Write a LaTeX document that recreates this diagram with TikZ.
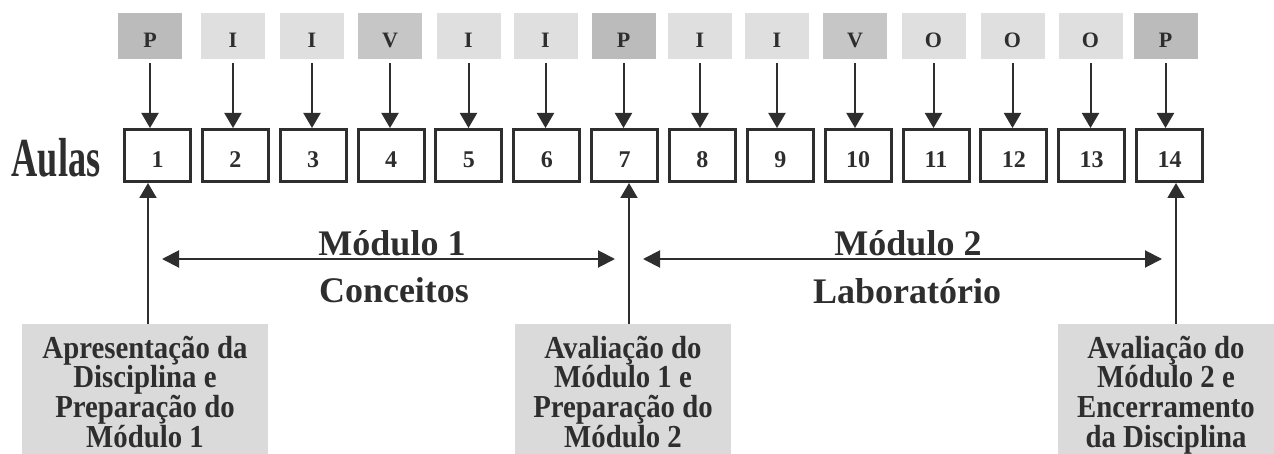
\documentclass[tikz,border=0pt]{standalone}
\usepackage{fontspec}
\setmainfont{Liberation Serif}
\newfontfamily\aulasfont[FakeStretch=0.66]{Liberation Serif}
\newfontfamily\condfont[FakeStretch=0.9]{Liberation Serif}
\usetikzlibrary{arrows.meta}
\definecolor{ink}{HTML}{2E2E2E}
\definecolor{darkfill}{HTML}{BBBBBB}
\definecolor{midfill}{HTML}{C6C6C6}
\definecolor{lightfill}{HTML}{DFDFDF}
\definecolor{notefill}{HTML}{DADADA}
\begin{document}
\begin{tikzpicture}[x=1pt,y=-1pt,
  tag/.style={rectangle, minimum width=64pt, minimum height=46pt, inner sep=0pt,
    text height=24pt, text depth=0pt, text=ink,
    font=\bfseries\fontsize{22}{26}\selectfont},
  tagdark/.style={tag, fill=darkfill},
  tagmid/.style={tag, fill=midfill},
  taglight/.style={tag, fill=lightfill},
  aula/.style={rectangle, draw=ink, line width=3pt, minimum width=66pt,
    minimum height=52pt, inner sep=0pt, text height=25pt, text depth=0pt,
    text=ink, font=\bfseries\fontsize{24}{28}\selectfont},
  arr/.style={draw=ink, line width=2pt, -{Triangle[width=17pt,length=15pt]}},
  dbl/.style={draw=ink, line width=2pt,
    {Triangle[width=17pt,length=17pt]}-{Triangle[width=17pt,length=17pt]}},
  note/.style={rectangle, fill=notefill, inner sep=0pt, align=center, text=ink,
    minimum height=142pt,
    font={\condfont\bfseries\fontsize{32}{29.7}\selectfont\lineskiplimit=-50pt}},
  modtext/.style={anchor=base, text=ink, inner sep=0pt,
    font=\bfseries\fontsize{36}{40}\selectfont}
]
\useasboundingbox (0,0) rectangle (1274,454);

% top tags
\foreach \i/\x/\l/\s in {1/150/P/tagdark, 2/233/I/taglight, 3/312/I/taglight,
  4/390/V/tagmid, 5/468.5/I/taglight, 6/545.5/I/taglight, 7/623.5/P/tagdark,
  8/700/I/taglight, 9/777/I/taglight, 10/855/V/tagmid, 11/933.5/O/taglight,
  12/1012.5/O/taglight, 13/1090.5/O/taglight, 14/1165.5/P/tagdark}
  \node[\s] (t\i) at (\x,36) {\l};

% aulas boxes
\foreach \i in {1,...,14}
  \node[aula] (a\i) at ({157.5+(\i-1)*77.85},155.5) {\i};

\foreach \i in {1,...,14}
  \draw[arr, shorten <=4pt] (t\i.south) -- (t\i.south |- a\i.north);

\node[anchor=base, inner sep=0pt, text=ink,
  font=\aulasfont\bfseries\fontsize{55}{60}\selectfont] (aulas) at (56,177) {Aulas};

% bottom notes
\node[note, minimum width=246pt] (b1) at (145,395)
  {Apresentação da\\Disciplina e\\Preparação do\\Módulo 1\vphantom{p}};
\node[note, minimum width=216pt] (b2) at (623,395)
  {Avaliação do\\Módulo 1 e\\Preparação do\\Módulo 2\vphantom{p}};
\node[note, minimum width=216pt] (b3) at (1166,395)
  {Avaliação do\\Módulo 2 e\\Encerramento\\da Disciplina};

\coordinate (u1) at (148,0);
\coordinate (u2) at (629,0);
\coordinate (u3) at (1176,0);
\draw[arr] (b1.north -| u1) -- (a1.south -| u1);
\draw[arr] (b2.north -| u2) -- (a7.south -| u2);
\draw[arr] (b3.north -| u3) -- (a14.south -| u3);

% modules
\coordinate (m1l) at (162,259);
\coordinate (m1r) at (615,259);
\coordinate (m2l) at (643,259);
\coordinate (m2r) at (1162,259);
\draw[dbl] (m1l) -- (m1r);
\draw[dbl] (m2l) -- (m2r);

\node[modtext] (mod1) at (392,256) {Módulo 1};
\node[modtext] (con) at (394,302) {Conceitos};
\node[modtext] (mod2) at (908,256) {Módulo 2};
\node[modtext] (lab) at (907,304) {Laboratório};
\end{tikzpicture}
\end{document}
